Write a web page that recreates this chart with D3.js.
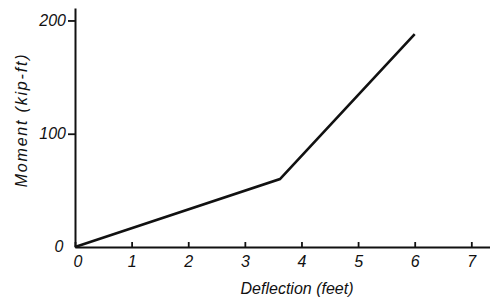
<!DOCTYPE html>
<html>
<head>
<meta charset="utf-8">
<script src="https://d3js.org/d3.v7.min.js"></script>
<style>
  body { margin: 0; background: #fff; }
  text { font-family: "Liberation Sans", Arial, sans-serif; font-style: italic; fill: #111; }
</style>
</head>
<body>
<script>
// Moment vs deflection, bilinear curve
const deflection = [0, 3.62, 6.0];
const moment = [0, 60, 188];
const xTicks = [0, 1, 2, 3, 4, 5, 6, 7];
const yTicks = [0, 100, 200];

const svg = d3.select("body")
  .append("svg")
  .attr("width", 490)
  .attr("height", 301);

const x = d3.scaleLinear().domain([0, 7.33]).range([75, 490]);
const y = d3.scaleLinear().domain([0, 211]).range([247, 8]);

// x axis, ticks pointing up
const xAxis = svg.append("g")
  .attr("transform", `translate(0,${y(0)})`)
  .call(d3.axisBottom(x).tickValues(xTicks).tickSizeInner(-5).tickSizeOuter(0).tickPadding(9));
xAxis.selectAll("text").filter(d => d === 0).remove();

// y axis
const yAxis = svg.append("g")
  .attr("transform", `translate(${x(0)},0)`)
  .call(d3.axisLeft(y).tickValues(yTicks).tickSizeInner(7).tickSizeOuter(0).tickPadding(2));
yAxis.selectAll(".tick").filter(d => d === 0).remove();

svg.selectAll(".domain").attr("stroke", "#111").attr("stroke-width", 2);
svg.selectAll(".tick line").attr("stroke", "#111").attr("stroke-width", 1.8);
svg.selectAll(".tick text").style("font-size", "16px");

// origin labels
svg.append("text").attr("x", x(0) - 16).attr("y", y(0) + 5)
  .attr("text-anchor", "middle").style("font-size", "16px").text("0");
svg.append("text").attr("x", x(0) + 3).attr("y", y(0) + 20)
  .attr("text-anchor", "middle").style("font-size", "16px").text("0");

// data line
const pts = deflection.map((d, i) => [d, moment[i]]);
svg.append("path")
  .datum(pts)
  .attr("fill", "none")
  .attr("stroke", "#111")
  .attr("stroke-width", 2.6)
  .attr("d", d3.line().x(d => x(d[0])).y(d => y(d[1])));

// axis titles
svg.append("text")
  .attr("x", 297).attr("y", 294)
  .attr("text-anchor", "middle")
  .style("font-size", "16px")
  .text("Deflection (feet)");

svg.append("text")
  .attr("transform", "translate(27,120) rotate(-90)")
  .attr("text-anchor", "middle")
  .style("font-size", "16px")
  .style("letter-spacing", "1.8px")
  .text("Moment (kip-ft)");
</script>
</body>
</html>
